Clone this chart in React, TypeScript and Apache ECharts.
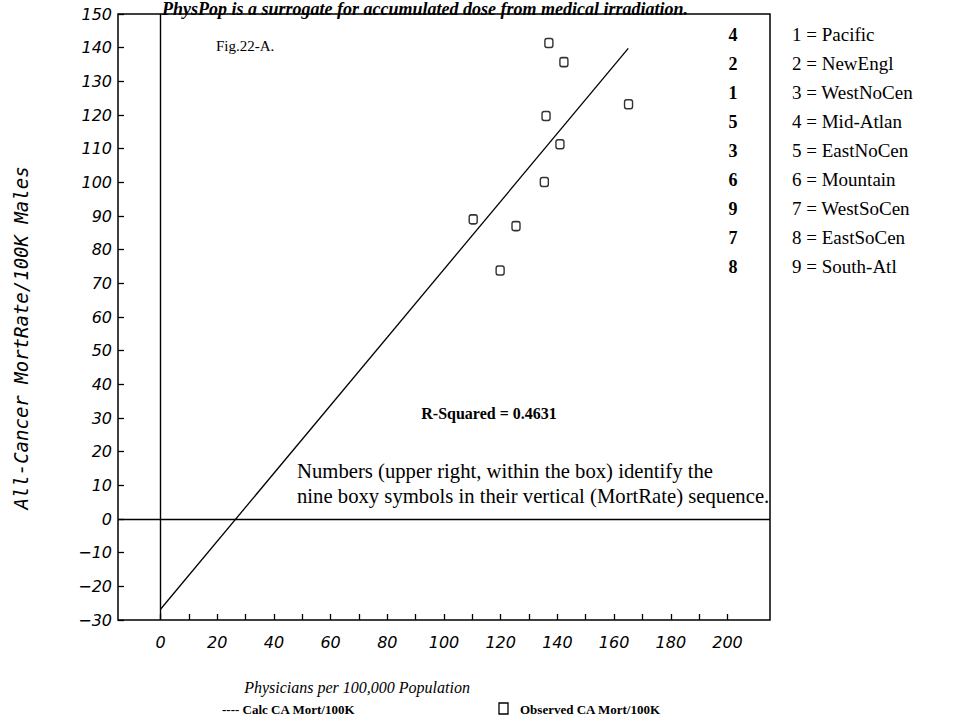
import React, { useEffect, useRef } from "react";
import * as echarts from "echarts";

// Observed points (Physicians per 100K, All-cancer mortrate / 100K males)
const obsX = [137.0, 142.3, 165.1, 136.0, 140.9, 135.4, 110.3, 125.4, 119.8];
const obsY = [141.4, 135.7, 123.2, 119.7, 111.3, 100.1, 89.0, 87.0, 73.8];

// Calculated (regression) line end points
const calcX = [0, 165];
const calcY = [-26.8, 139.8];

// Numbers column (vertical sequence of the boxy symbols)
const orderLabels = ["4", "2", "1", "5", "3", "6", "9", "7", "8"];
const regionNames = [
  "Pacific",
  "NewEngl",
  "WestNoCen",
  "Mid-Atlan",
  "EastNoCen",
  "Mountain",
  "WestSoCen",
  "EastSoCen",
  "South-Atl",
];

const xTickValues = [0, 10, 20, 30, 40, 50, 60, 70, 80, 90, 100, 110, 120, 130, 140, 150, 160, 170, 180, 190, 200];
const xLabelValues = [0, 20, 40, 60, 80, 100, 120, 140, 160, 180, 200];

const titleText = "PhysPop is a surrogate for accumulated dose from medical irradiation.";
const figText = "Fig.22-A.";
const rSquaredText = "R-Squared = 0.4631";
const noteLines = [
  "Numbers (upper right, within the box) identify the",
  "nine boxy symbols in their vertical (MortRate) sequence.",
];
const xName = "Physicians per 100,000 Population";
const yName = "All-Cancer MortRate/100K Males";
const calcName = "Calc CA Mort/100K";
const obsName = "Observed CA Mort/100K";

const SERIF = "'Liberation Serif', 'Times New Roman', serif";
const SANS = "'DejaVu Sans', sans-serif";
const MONO = "'DejaVu Sans Mono', monospace";

export default function App() {
  const ref = useRef<HTMLDivElement>(null);

  useEffect(() => {
    if (!ref.current) return;
    const chart = echarts.init(ref.current, null, { renderer: "svg" });

    const graphic: any[] = [];
    graphic.push({
      type: "text",
      x: 425,
      y: 0,
      style: {
        text: titleText,
        font: `italic bold 18px ${SERIF}`,
        fill: "#000",
        align: "center",
        verticalAlign: "top",
      },
    });
    graphic.push({
      type: "text",
      x: 216,
      y: 46,
      style: { text: figText, font: `15px ${SERIF}`, fill: "#000", verticalAlign: "middle" },
    });
    orderLabels.forEach((t, i) => {
      graphic.push({
        type: "text",
        x: 733,
        y: 35 + i * 29,
        style: {
          text: t,
          font: `bold 18px ${SERIF}`,
          fill: "#000",
          align: "center",
          verticalAlign: "middle",
        },
      });
    });
    regionNames.forEach((n, i) => {
      graphic.push({
        type: "text",
        x: 792,
        y: 34 + i * 29,
        style: {
          text: `${i + 1} = ${n}`,
          font: `19px ${SERIF}`,
          fill: "#000",
          verticalAlign: "middle",
        },
      });
    });
    graphic.push({
      type: "text",
      x: 489,
      y: 413,
      style: {
        text: rSquaredText,
        font: `bold 16px ${SERIF}`,
        fill: "#000",
        align: "center",
        verticalAlign: "middle",
      },
    });
    noteLines.forEach((l, i) => {
      graphic.push({
        type: "text",
        x: 297,
        y: 471 + i * 25,
        style: { text: l, font: `20.7px ${SERIF}`, fill: "#000", verticalAlign: "middle" },
      });
    });
    graphic.push({
      type: "text",
      x: 357,
      y: 687,
      style: {
        text: xName,
        font: `italic 16px ${SERIF}`,
        fill: "#000",
        align: "center",
        verticalAlign: "middle",
      },
    });
    graphic.push({
      type: "text",
      x: 21,
      y: 338,
      rotation: Math.PI / 2,
      style: {
        text: yName,
        font: `italic 19px ${MONO}`,
        fill: "#000",
        align: "center",
        verticalAlign: "middle",
      },
    });
    graphic.push({
      type: "text",
      x: 222,
      y: 709,
      style: {
        text: "---- " + calcName,
        font: `bold 13px ${SERIF}`,
        fill: "#000",
        verticalAlign: "middle",
      },
    });
    graphic.push({
      type: "rect",
      shape: { x: 499, y: 703, width: 9, height: 11 },
      style: { fill: "none", stroke: "#000", lineWidth: 1.3 },
    });
    graphic.push({
      type: "text",
      x: 520,
      y: 709,
      style: {
        text: obsName,
        font: `bold 13px ${SERIF}`,
        fill: "#000",
        verticalAlign: "middle",
      },
    });

    const labelStyle = {
      color: "#000",
      fontStyle: "italic" as const,
      fontFamily: SANS,
      fontSize: 16,
    };

    chart.setOption({
      animation: false,
      backgroundColor: "#fff",
      grid: {
        left: 118,
        top: 14,
        right: 194,
        bottom: 104,
        show: true,
        borderColor: "#000",
        borderWidth: 1.5,
        containLabel: false,
      },
      xAxis: {
        type: "value",
        min: -15,
        max: 215,
        axisLine: { show: false, onZero: false },
        splitLine: { show: false },
        axisTick: {
          show: true,
          inside: true,
          length: 6,
          customValues: xTickValues,
          lineStyle: { color: "#000", width: 1.3 },
        },
        axisLabel: {
          ...labelStyle,
          margin: 14,
          customValues: xLabelValues,
        },
      },
      yAxis: {
        type: "value",
        min: -30,
        max: 150,
        interval: 10,
        axisLine: { show: false, onZero: false },
        splitLine: { show: false },
        axisTick: { show: true, inside: true, length: 6, lineStyle: { color: "#000", width: 1.3 } },
        axisLabel: {
          ...labelStyle,
          margin: 6,
          formatter: (v: number) => (v < 0 ? "\u2212" + Math.abs(v) : String(v)),
        },
      },
      graphic,
      series: [
        {
          name: calcName,
          type: "line",
          data: calcX.map((x, i) => [x, calcY[i]]),
          showSymbol: false,
          symbol: "none",
          lineStyle: { color: "#000", width: 1.3 },
          silent: true,
          markLine: {
            silent: true,
            symbol: "none",
            label: { show: false },
            lineStyle: { color: "#000", width: 1.4, type: "solid" },
            data: [{ xAxis: 0 }, { yAxis: 0 }],
          },
        },
        {
          name: obsName,
          type: "scatter",
          data: obsX.map((x, i) => [x, obsY[i]]),
          symbol: "roundRect",
          symbolSize: [8, 9],
          itemStyle: { color: "#fff", borderColor: "#000", borderWidth: 1.5 },
          silent: true,
        },
      ],
    });

    return () => chart.dispose();
  }, []);

  return (
    <div
      ref={ref}
      style={{ position: "fixed", left: 0, top: 0, width: 964, height: 724, background: "#fff" }}
    />
  );
}
